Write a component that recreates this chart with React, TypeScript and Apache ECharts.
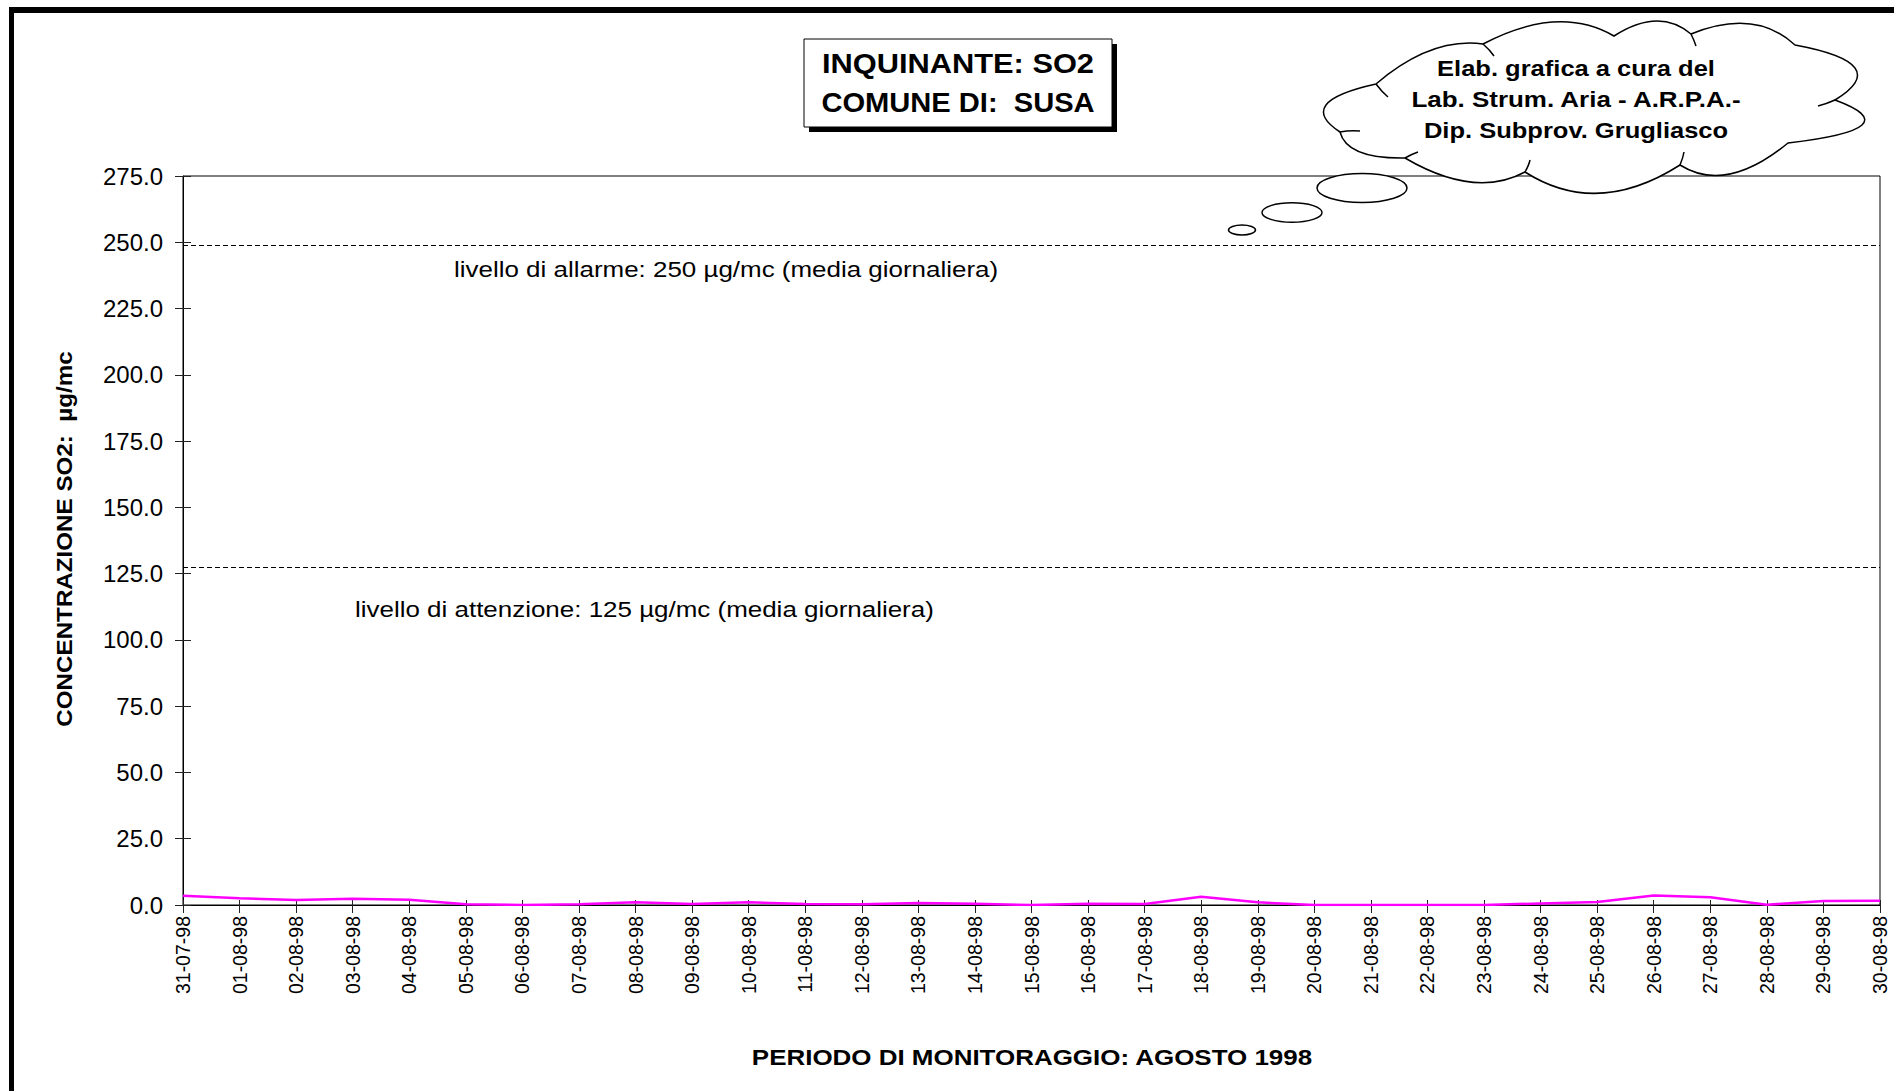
import React, { useEffect, useRef } from "react";
import * as echarts from "echarts";

// ---------- DATA ----------
const dates = [
  "31-07-98", "01-08-98", "02-08-98", "03-08-98", "04-08-98", "05-08-98", "06-08-98",
  "07-08-98", "08-08-98", "09-08-98", "10-08-98", "11-08-98", "12-08-98", "13-08-98",
  "14-08-98", "15-08-98", "16-08-98", "17-08-98", "18-08-98", "19-08-98", "20-08-98",
  "21-08-98", "22-08-98", "23-08-98", "24-08-98", "25-08-98", "26-08-98", "27-08-98",
  "28-08-98", "29-08-98", "30-08-98",
];
const so2Values = [
  3.5, 2.5, 1.9, 2.4, 2.0, 0.3, 0.0, 0.3, 1.0, 0.4, 1.0, 0.4, 0.3, 0.8, 0.5, 0.0,
  0.5, 0.4, 3.1, 1.0, 0.0, 0.0, 0.0, 0.0, 0.6, 1.1, 3.6, 2.9, 0.1, 1.5, 1.6,
];
const yMin = 0;
const yMax = 275;
const yInterval = 25;
const thresholdValues = [249, 127.5];
const thresholdLabels = [
  "livello di allarme: 250 µg/mc (media giornaliera)",
  "livello di attenzione: 125 µg/mc (media giornaliera)",
];
const titleLines = ["INQUINANTE: SO2", "COMUNE DI:  SUSA"];
const cloudLines = [
  "Elab. grafica a cura del",
  "Lab. Strum. Aria - A.R.P.A.-",
  "Dip. Subprov. Grugliasco",
];
const yAxisTitle = "CONCENTRAZIONE SO2:  µg/mc";
const xAxisTitle = "PERIODO DI MONITORAGGIO: AGOSTO 1998";

// ---------- SHAPES ----------
const FONT = '"Liberation Sans", Arial, Helvetica, sans-serif';
const cloudPath =
  "M1376 84 Q1431 37 1483 44 Q1559 4 1614 36 Q1659 7 1691 34 Q1755 8 1795 45 " +
  "Q1895 63.5 1835 100 Q1912.5 128.5 1788 143 Q1726 194 1680 165 Q1597 218 1525 172 " +
  "Q1475 199 1405 158 Q1347 159 1340 132 Q1294 102 1376 84 Z";
const cloudTails =
  "M1376 84 Q1382 92 1388 97 M1483 44 Q1490 50 1494 56 M1691 34 Q1694 40 1696 46 " +
  "M1835 100 Q1826 104 1818 106 M1680 165 Q1683 158 1684 152 M1525 172 Q1529 165 1530 160 " +
  "M1405 158 Q1412 154 1418 152 M1340 132 Q1350 130 1360 131";
echarts.graphic.registerShape("cloud", echarts.graphic.extendPath(cloudPath, {}));
echarts.graphic.registerShape("cloudTails", echarts.graphic.extendPath(cloudTails, {}));

function txt(
  text: string,
  x: number,
  y: number,
  size: number,
  bold: boolean,
  align: string,
  scaleX = 1,
  rotation = 0
) {
  return {
    type: "text",
    x,
    y,
    scaleX,
    rotation,
    z: 20,
    style: {
      text,
      fill: "#000",
      fontFamily: FONT,
      fontSize: size,
      fontWeight: bold ? "bold" : "normal",
      align,
      verticalAlign: "middle",
      textAlign: align,
      textVerticalAlign: "middle",
    },
  };
}

export default function App() {
  const ref = useRef<HTMLDivElement>(null);
  useEffect(() => {
    const chart = echarts.init(ref.current!, null, { renderer: "svg" });
    const option: any = {
      animation: false,
      backgroundColor: "#ffffff",
      textStyle: { fontFamily: FONT },
      grid: {
        left: 183,
        top: 176,
        right: 14,
        bottom: 186,
        show: true,
        borderColor: "#000",
        borderWidth: 1,
        containLabel: false,
      },
      xAxis: [
        {
          type: "category",
          data: dates,
          boundaryGap: false,
          position: "bottom",
          axisLine: { show: true, lineStyle: { color: "#000", width: 1 } },
          axisTick: { show: true, interval: 0, length: 8, lineStyle: { color: "#222" } },
          axisLabel: {
            show: true,
            interval: 0,
            rotate: 90,
            fontSize: 19.5,
            color: "#000",
            fontFamily: FONT,
            margin: 11,
          },
          splitLine: { show: false },
        },
        {
          type: "category",
          data: dates,
          boundaryGap: false,
          position: "bottom",
          axisLine: { show: false },
          axisTick: { show: true, inside: true, interval: 0, length: 5, lineStyle: { color: "#222" } },
          axisLabel: { show: false },
          splitLine: { show: false },
        },
      ],
      yAxis: [
        {
          type: "value",
          min: yMin,
          max: yMax,
          interval: yInterval,
          position: "left",
          axisLine: { show: true, lineStyle: { color: "#000", width: 1 } },
          axisTick: { show: true, length: 8, lineStyle: { color: "#222" } },
          axisLabel: {
            show: true,
            fontSize: 24,
            color: "#000",
            fontFamily: FONT,
            margin: 20,
            formatter: (v: number) => v.toFixed(1),
          },
          splitLine: { show: false },
        },
        {
          type: "value",
          min: yMin,
          max: yMax,
          interval: yInterval,
          position: "left",
          axisLine: { show: false },
          axisTick: { show: true, inside: true, length: 8, lineStyle: { color: "#222" } },
          axisLabel: { show: false },
          splitLine: { show: false },
        },
      ],
      series: [
        {
          type: "line",
          name: "SO2",
          data: so2Values,
          xAxisIndex: 0,
          yAxisIndex: 0,
          showSymbol: false,
          symbol: "none",
          lineStyle: { color: "#ff00ff", width: 2.5 },
          itemStyle: { color: "#ff00ff" },
          z: 5,
          markLine: {
            silent: true,
            symbol: "none",
            label: { show: false },
            lineStyle: { color: "#000", width: 1, type: [5, 3] },
            data: thresholdValues.map((v) => ({ yAxis: v })),
          },
        },
      ],
      graphic: [
        // outer frame (left and top)
        { type: "rect", shape: { x: 9, y: 7, width: 5, height: 1084 }, style: { fill: "#000" }, z: 30 },
        { type: "rect", shape: { x: 9, y: 7, width: 1885, height: 6 }, style: { fill: "#000" }, z: 30 },
        // title box with shadow
        { type: "rect", shape: { x: 809, y: 44, width: 308, height: 88 }, style: { fill: "#000" }, z: 10 },
        {
          type: "rect",
          shape: { x: 804, y: 39, width: 308, height: 88 },
          style: { fill: "#fff", stroke: "#000", lineWidth: 1 },
          z: 11,
        },
        txt(titleLines[0], 958, 63, 28, true, "center", 1.1),
        txt(titleLines[1], 958, 102, 28, true, "center", 1.04),
        // thought bubbles
        {
          type: "ellipse",
          shape: { cx: 1242, cy: 230, rx: 13.5, ry: 5 },
          style: { fill: "#fff", stroke: "#000", lineWidth: 1.5 },
          z: 12,
        },
        {
          type: "ellipse",
          shape: { cx: 1292, cy: 212.5, rx: 30, ry: 9.7 },
          style: { fill: "#fff", stroke: "#000", lineWidth: 1.5 },
          z: 12,
        },
        {
          type: "ellipse",
          shape: { cx: 1362, cy: 188, rx: 45, ry: 14.5 },
          style: { fill: "#fff", stroke: "#000", lineWidth: 1.5 },
          z: 12,
        },
        {
          type: "cloud",
          x: 0,
          y: 0,
          style: { fill: "#fff", stroke: "#000", lineWidth: 1.5 },
          z: 12,
        },
        {
          type: "cloudTails",
          x: 0,
          y: 0,
          style: { fill: null, stroke: "#000", lineWidth: 1.5 },
          z: 13,
        },
        txt(cloudLines[0], 1576, 68, 22, true, "center", 1.16),
        txt(cloudLines[1], 1576, 99, 22, true, "center", 1.18),
        txt(cloudLines[2], 1576, 130, 22, true, "center", 1.16),
        // threshold annotations
        txt(thresholdLabels[0], 454, 269, 22, false, "left", 1.18),
        txt(thresholdLabels[1], 355, 609, 22, false, "left", 1.18),
        // axis titles
        txt(yAxisTitle, 64, 539, 22, true, "center", 1.1, Math.PI / 2),
        txt(xAxisTitle, 1032, 1057, 22, true, "center", 1.18),
      ],
    };
    chart.setOption(option);
    return () => chart.dispose();
  }, []);
  return (
    <div
      ref={ref}
      style={{ position: "absolute", left: 0, top: 0, width: 1894, height: 1091, background: "#fff" }}
    />
  );
}
